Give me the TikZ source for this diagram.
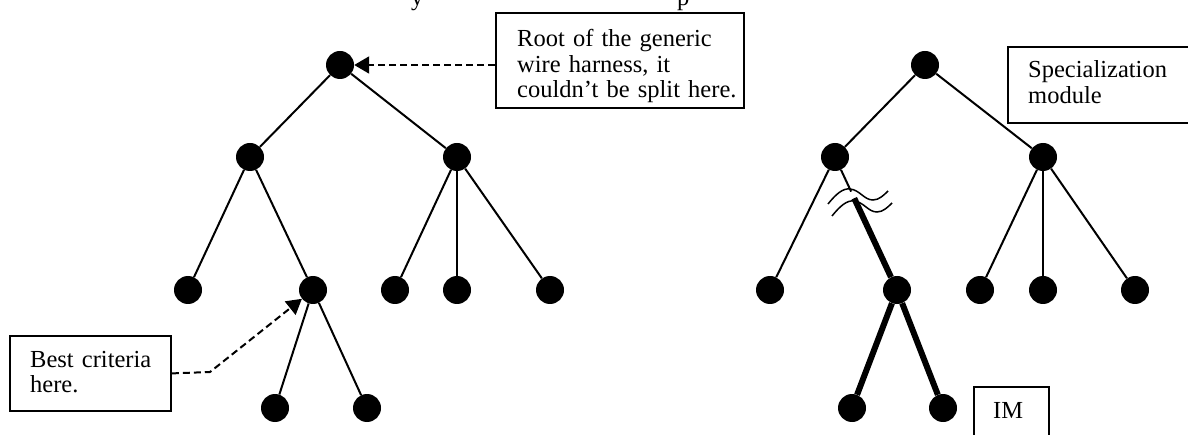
\documentclass[tikz,border=0pt]{standalone}
\usepackage{fontspec}
\setmainfont{Liberation Serif}
\usetikzlibrary{arrows.meta,calc}

\tikzset{
	vertex/.style={circle, fill=black, minimum size=28pt, inner sep=0pt},
	edge/.style={line width=2pt},
	splitedge/.style={line width=6pt},
	breakmark/.style={line width=1.5pt},
	notebox/.style={draw, line width=1.8pt, inner sep=0pt, anchor=north west},
	notetext/.style={anchor=base west, align=left, text width=#1, inner sep=0pt, font=\fontsize{24.5}{25.5}\selectfont},
	notetext/.default=240pt,
	pointer/.style={line width=2pt, dash pattern=on 7pt off 4pt, -{Triangle[length=15pt,width=17pt]}},
}

\begin{document}
\begin{tikzpicture}[x=1pt,y=-1pt]
			%%%%% START %%%%%
			
			\fill[white] (0,0) rectangle (1188,435);
			\useasboundingbox (0,0) rectangle (1188,435);
			\clip (0,0) rectangle (1188,435);
			
			% caption line above, cut by the page edge
			\node[notetext=20pt] (titley) at (411,6) {y};
			\node[notetext=20pt] (titlep) at (677,6) {p};
			
			% generic harness tree
			\node[vertex] (lroot) at (340,65) {};
			\node[vertex] (la) at (250,157) {};
			\node[vertex] (lb) at (457,157) {};
			\node[vertex] (lc) at (188,290) {};
			\node[vertex] (ld) at (313,290) {};
			\node[vertex] (le) at (395,290) {};
			\node[vertex] (lf) at (457,290) {};
			\node[vertex] (lg) at (550,290) {};
			\node[vertex] (lh) at (275,408) {};
			\node[vertex] (li) at (367,408) {};
			
			\draw[edge] (lroot) -- (la);
			\draw[edge] (lroot) -- (lb);
			\draw[edge] (la) -- (lc);
			\draw[edge] (la) -- (ld);
			\draw[edge] (lb) -- (le);
			\draw[edge] (lb) -- (lf);
			\draw[edge] (lb) -- (lg);
			\draw[edge] (ld) -- (lh);
			\draw[edge] (ld) -- (li);
			
			% same tree, split at one branch
			\node[vertex] (rroot) at (925,65) {};
			\node[vertex] (ra) at (835,157) {};
			\node[vertex] (rb) at (1043,157) {};
			\node[vertex] (rc) at (770,290) {};
			\node[vertex] (rd) at (897,290) {};
			\node[vertex] (re) at (980,290) {};
			\node[vertex] (rf) at (1043,290) {};
			\node[vertex] (rg) at (1135,290) {};
			\node[vertex] (rh) at (852,408) {};
			\node[vertex] (ri) at (943,408) {};
			
			\draw[edge] (rroot) -- (ra);
			\draw[edge] (rroot) -- (rb);
			\draw[edge] (ra) -- (rc);
			\draw[edge] (rb) -- (re);
			\draw[edge] (rb) -- (rf);
			\draw[edge] (rb) -- (rg);
			
			\coordinate (cuttop) at ($(ra)!0.26!(rd)$);
			\coordinate (cutbot) at ($(ra)!0.31!(rd)$);
			\draw[edge] (ra) -- (cuttop);
			\draw[splitedge] (cutbot) -- (rd);
			\draw[splitedge] (rd) -- (rh);
			\draw[splitedge] (rd) -- (ri);
			
			\draw[breakmark] (828,204) .. controls (836,194) and (843,188) .. (850,189) .. controls (860,190) and (864,200) .. (873,200) .. controls (879,200) and (884,195) .. (888,191);
			\draw[breakmark] (832,216) .. controls (840,206) and (847,200) .. (854,201) .. controls (864,202) and (868,212) .. (877,212) .. controls (883,212) and (888,207) .. (892,203);
			
			% notes
			\node[notebox, minimum width=248pt, minimum height=95pt] (rootbox) at (495,12) {};
			\node[notetext] (roottext) at (517,47) {Root of the generic\\wire harness, it\\couldn’t be split here.};
			
			\node[notebox, minimum width=161pt, minimum height=75pt] (bestbox) at (9,335) {};
			\node[notetext=140pt] (besttext) at (30,367) {Best criteria\\here.};
			
			\node[notebox, minimum width=250pt, minimum height=76pt] (specbox) at (1007,46) {};
			\node[notetext=170pt] (spectext) at (1028,78) {Specialization\\module};
			
			\node[notebox, minimum width=75pt, minimum height=80pt] (imbox) at (973,386) {};
			\node[notetext=50pt] (imtext) at (993,418) {IM};
			
			\draw[pointer] (rootbox.west |- lroot) -- (lroot);
			\coordinate (bend) at (210,372);
			\draw[pointer] (bestbox.east) -- (bend) -- (ld);
			
			%%%%% END %%%%%
\end{tikzpicture}
\end{document}
